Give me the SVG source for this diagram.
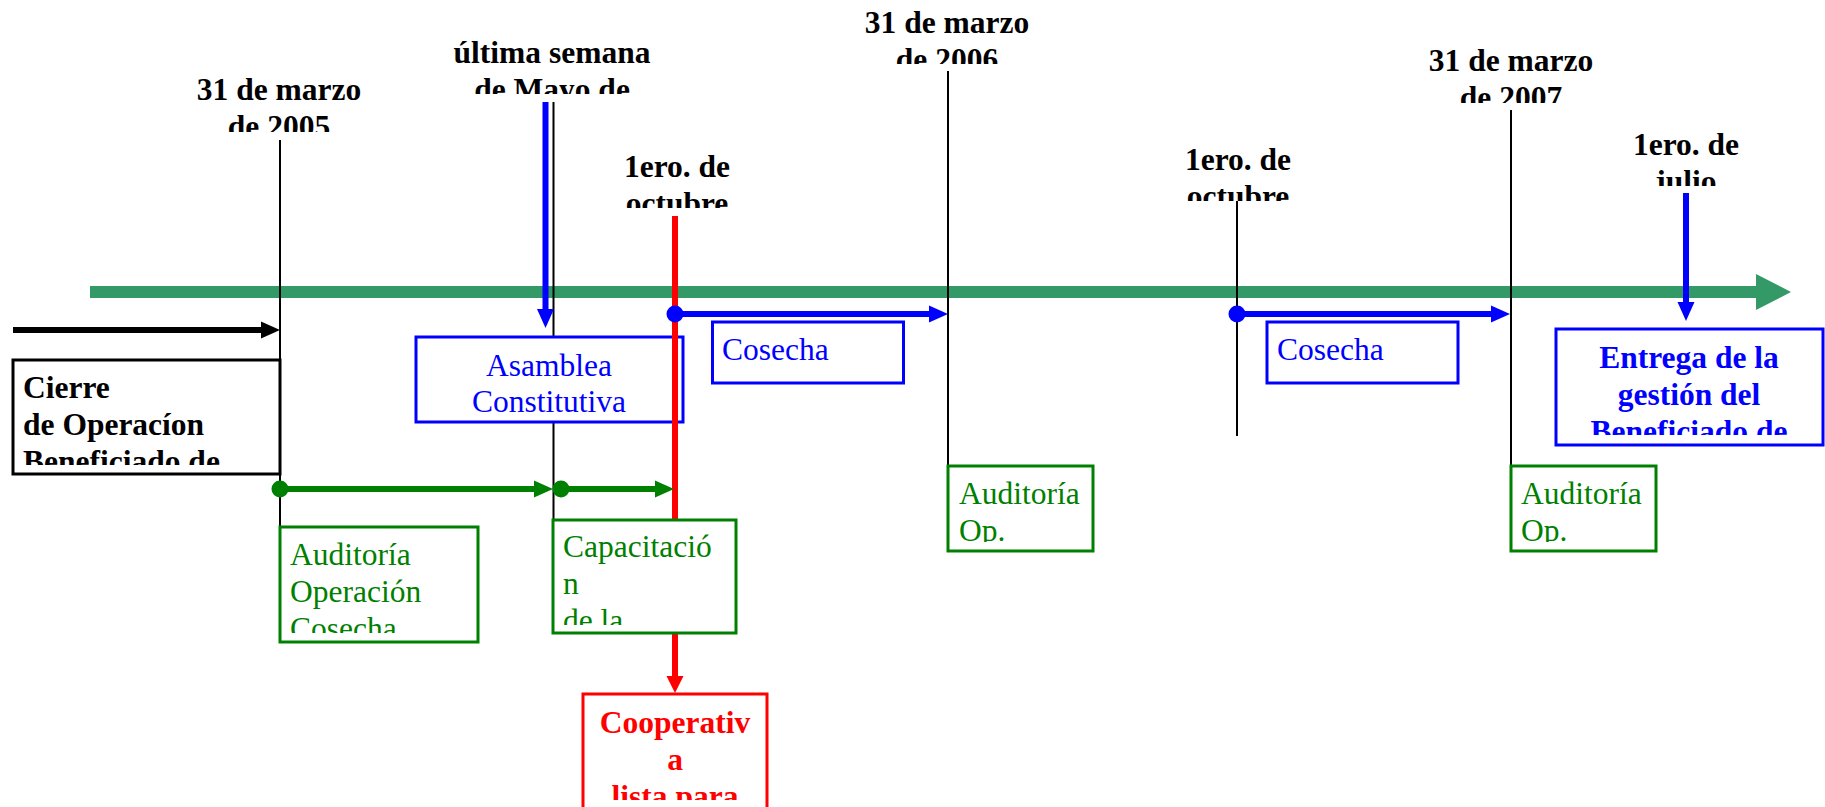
<svg xmlns="http://www.w3.org/2000/svg" width="1825" height="807" viewBox="0 0 1825 807">
<style>
text{font-family:"Liberation Serif","Times New Roman",serif;font-size:31.5px}
.b{font-weight:bold}
.lbl{font-weight:bold;fill:#000;text-anchor:middle}
.box{fill:#fff;stroke-width:3}
.kb{stroke:#000}.gb{stroke:#008000}.bb{stroke:#0000ff}.rb{stroke:#ff0000}
.tk{fill:#000}.tg{fill:#008000}.tb{fill:#0000ff}.tr{fill:#ff0000}
.thin{stroke:#000;stroke-width:2;fill:none}
.ab{stroke:#0000ff;stroke-width:6;fill:none}
.ag{stroke:#008000;stroke-width:6;fill:none}
.ar{stroke:#ff0000;stroke-width:6;fill:none}
.ak{stroke:#000;stroke-width:6;fill:none}
</style>
<defs>
<marker id="hk" markerUnits="userSpaceOnUse" markerWidth="19" markerHeight="18" refX="0" refY="8.5" orient="auto" overflow="visible"><path d="M0,0 L19,8.5 L0,17 z" fill="#000"/></marker>
<marker id="hb" markerUnits="userSpaceOnUse" markerWidth="19" markerHeight="18" refX="0" refY="8.5" orient="auto" overflow="visible"><path d="M0,0 L19,8.5 L0,17 z" fill="#0000ff"/></marker>
<marker id="hg" markerUnits="userSpaceOnUse" markerWidth="19" markerHeight="18" refX="0" refY="8.5" orient="auto" overflow="visible"><path d="M0,0 L19,8.5 L0,17 z" fill="#008000"/></marker>
<marker id="hr" markerUnits="userSpaceOnUse" markerWidth="19" markerHeight="18" refX="0" refY="8.5" orient="auto" overflow="visible"><path d="M0,0 L17,8.5 L0,17 z" fill="#ff0000"/></marker>
<clipPath id="c2005"><rect x="150" y="0" width="260" height="132"/></clipPath>
<clipPath id="cult"><rect x="420" y="0" width="270" height="94"/></clipPath>
<clipPath id="coct1"><rect x="580" y="120" width="200" height="88"/></clipPath>
<clipPath id="c2006"><rect x="830" y="0" width="240" height="64"/></clipPath>
<clipPath id="coct2"><rect x="1150" y="120" width="180" height="81"/></clipPath>
<clipPath id="c2007"><rect x="1400" y="0" width="230" height="103"/></clipPath>
<clipPath id="cjul"><rect x="1600" y="100" width="180" height="86"/></clipPath>
<clipPath id="ccie"><rect x="15" y="362" width="262" height="103"/></clipPath>
<clipPath id="cau1"><rect x="281" y="529" width="195" height="104"/></clipPath>
<clipPath id="ccap"><rect x="555" y="522" width="179" height="103"/></clipPath>
<clipPath id="cau2"><rect x="950" y="468" width="141" height="74"/></clipPath>
<clipPath id="cau3"><rect x="1513" y="468" width="141" height="74"/></clipPath>
<clipPath id="cent"><rect x="1558" y="331" width="263" height="104"/></clipPath>
<clipPath id="ccoo"><rect x="585" y="696" width="180" height="104"/></clipPath>
</defs>
<rect width="1825" height="807" fill="#fff"/>

<g id="timeline">
<rect x="90" y="286" width="1667" height="12" fill="#339966"/>
<polygon points="1756,274 1791,292 1756,310" fill="#339966"/>
</g>

<g id="labels">
<g id="lbl-2005" clip-path="url(#c2005)"><text class="lbl" x="279" y="100">31 de marzo</text><text class="lbl" x="279" y="137">de 2005</text></g>
<g id="lbl-mayo" clip-path="url(#cult)"><text class="lbl" x="552" y="63">última semana</text><text class="lbl" x="552" y="100">de Mayo de</text></g>
<g id="lbl-oct1" clip-path="url(#coct1)"><text class="lbl" x="677" y="177">1ero. de</text><text class="lbl" x="677" y="214">octubre</text></g>
<g id="lbl-2006" clip-path="url(#c2006)"><text class="lbl" x="947" y="33">31 de marzo</text><text class="lbl" x="947" y="70">de 2006</text></g>
<g id="lbl-oct2" clip-path="url(#coct2)"><text class="lbl" x="1238" y="170">1ero. de</text><text class="lbl" x="1238" y="207">octubre</text></g>
<g id="lbl-2007" clip-path="url(#c2007)"><text class="lbl" x="1511" y="71">31 de marzo</text><text class="lbl" x="1511" y="108">de 2007</text></g>
<g id="lbl-julio" clip-path="url(#cjul)"><text class="lbl" x="1686" y="155">1ero. de</text><text class="lbl" x="1686" y="192">julio</text></g>
</g>

<g id="ticks">
<line class="thin" x1="280" y1="140" x2="280" y2="527"/>
<line class="thin" x1="553.5" y1="102" x2="553.5" y2="520"/>
<line class="thin" x1="948" y1="71" x2="948" y2="466"/>
<line class="thin" x1="1237" y1="201" x2="1237" y2="436"/>
<line class="thin" x1="1511" y1="110" x2="1511" y2="466"/>
</g>

<g id="n-asamblea">
<rect class="box bb" x="416" y="337" width="267" height="85"/>
<text class="tb" x="549" y="376" text-anchor="middle">Asamblea</text>
<text class="tb" x="549" y="412" text-anchor="middle">Constitutiva</text>
</g>

<g id="connectors">
<line class="ak" x1="13" y1="330" x2="261" y2="330" marker-end="url(#hk)"/>
<line class="ab" x1="545.5" y1="102" x2="545.5" y2="309" marker-end="url(#hb)"/>
<line class="ar" x1="675" y1="216" x2="675" y2="676" marker-end="url(#hr)"/>
<line class="ab" x1="675" y1="314" x2="929" y2="314" marker-end="url(#hb)"/>
<circle cx="675" cy="314" r="8.5" fill="#0000ff"/>
<line class="ab" x1="1237" y1="314" x2="1491" y2="314" marker-end="url(#hb)"/>
<circle cx="1237" cy="314" r="8.5" fill="#0000ff"/>
<line class="ab" x1="1686" y1="193" x2="1686" y2="302" marker-end="url(#hb)"/>
<line class="ag" x1="280" y1="489" x2="534" y2="489" marker-end="url(#hg)"/>
<circle cx="280" cy="489" r="8.5" fill="#008000"/>
<line class="ag" x1="561" y1="489" x2="655" y2="489" marker-end="url(#hg)"/>
<circle cx="561" cy="489" r="8.5" fill="#008000"/>
</g>

<g id="n-cierre">
<rect class="box kb" x="13" y="360" width="267" height="114"/>
<g clip-path="url(#ccie)" class="b tk">
<text class="b tk" x="23" y="398">Cierre</text>
<text class="b tk" x="23" y="435">de Operacíon</text>
<text class="b tk" x="23" y="472">Beneficiado de</text>
</g>
</g>

<g id="n-auditoria1">
<rect class="box gb" x="280" y="527" width="198" height="115"/>
<g clip-path="url(#cau1)">
<text class="tg" x="290" y="565">Auditoría</text>
<text class="tg" x="290" y="602">Operación</text>
<text class="tg" x="290" y="639">Cosecha</text>
</g>
</g>

<g id="n-capacitacion">
<rect class="box gb" x="553" y="520" width="183" height="113"/>
<g clip-path="url(#ccap)">
<text class="tg" x="563" y="557">Capacitació</text>
<text class="tg" x="563" y="594">n</text>
<text class="tg" x="563" y="631">de la</text>
</g>
</g>

<g id="n-cosecha1">
<rect class="box bb" x="712.5" y="322" width="191" height="61"/>
<text class="tb" x="722" y="360">Cosecha</text>
</g>

<g id="n-cosecha2">
<rect class="box bb" x="1267" y="322" width="191" height="61"/>
<text class="tb" x="1277" y="360">Cosecha</text>
</g>

<g id="n-auditoria2">
<rect class="box gb" x="948" y="466" width="145" height="85"/>
<g clip-path="url(#cau2)">
<text class="tg" x="959" y="504">Auditoría</text>
<text class="tg" x="959" y="541">Op.</text>
</g>
</g>

<g id="n-auditoria3">
<rect class="box gb" x="1511" y="466" width="145" height="85"/>
<g clip-path="url(#cau3)">
<text class="tg" x="1521" y="504">Auditoría</text>
<text class="tg" x="1521" y="541">Op.</text>
</g>
</g>

<g id="n-entrega">
<rect class="box bb" x="1556" y="329" width="267" height="116"/>
<g clip-path="url(#cent)">
<text class="b tb" x="1689" y="368" text-anchor="middle">Entrega de la</text>
<text class="b tb" x="1689" y="405" text-anchor="middle">gestión del</text>
<text class="b tb" x="1689" y="442" text-anchor="middle">Beneficiado de</text>
</g>
</g>

<g id="n-cooperativa">
<rect class="box rb" x="583" y="694" width="184" height="120"/>
<g clip-path="url(#ccoo)">
<text class="b tr" x="675" y="733" text-anchor="middle">Cooperativ</text>
<text class="b tr" x="675" y="770" text-anchor="middle">a</text>
<text class="b tr" x="675" y="807" text-anchor="middle">lista para</text>
</g>
</g>
</svg>
